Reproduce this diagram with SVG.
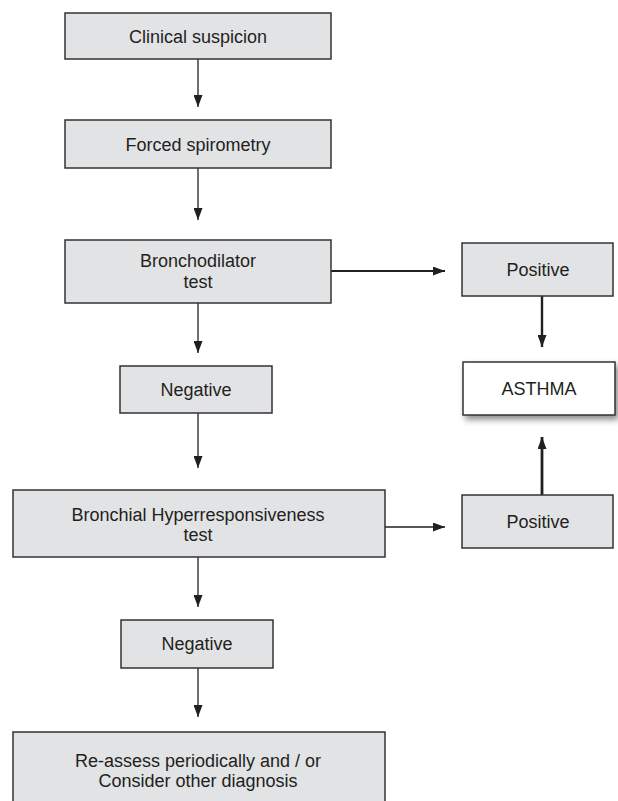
<svg xmlns="http://www.w3.org/2000/svg" width="618" height="801" viewBox="0 0 618 801">
<defs>
<style>
.box{fill:#e2e3e5;stroke:#333;stroke-width:1.5}
.wbox{fill:#fff;stroke:#333;stroke-width:1.5}
.t{font-family:"Liberation Sans",Arial,sans-serif;font-size:18px;fill:#231f20;text-anchor:middle}
.c{stroke:#231f20;stroke-width:1.3;fill:none}
</style>
<marker id="ah" markerUnits="userSpaceOnUse" markerWidth="12" markerHeight="9" refX="12" refY="4.5" orient="auto">
<path d="M0,0 L12,4.5 L0,9 z" fill="#231f20"/>
</marker>
<filter id="sh" x="-10%" y="-20%" width="130%" height="160%">
<feDropShadow dx="3" dy="4" stdDeviation="3" flood-color="#000" flood-opacity="0.45"/>
</filter>
</defs>
<rect width="618" height="801" fill="#fff"/>
<g id="connectors">
<line class="c" x1="198" y1="59" x2="198" y2="107" marker-end="url(#ah)"/>
<line class="c" x1="198" y1="168" x2="198" y2="220" marker-end="url(#ah)"/>
<line class="c" x1="198" y1="303" x2="198" y2="353" marker-end="url(#ah)"/>
<line class="c" x1="198" y1="413" x2="198" y2="468" marker-end="url(#ah)"/>
<line class="c" x1="198" y1="557" x2="198" y2="607" marker-end="url(#ah)"/>
<line class="c" x1="198" y1="668" x2="198" y2="717" marker-end="url(#ah)"/>
<line class="c" x1="331" y1="271" x2="445" y2="271" style="stroke-width:2" marker-end="url(#ah)"/>
<line class="c" x1="385" y1="527" x2="445" y2="527" marker-end="url(#ah)"/>
<line class="c" x1="542" y1="296" x2="542" y2="347" style="stroke-width:2.4" marker-end="url(#ah)"/>
<line class="c" x1="542" y1="495" x2="542" y2="437" style="stroke-width:2.8" marker-end="url(#ah)"/>
</g>
<g id="clinical">
<rect class="box" x="65" y="13" width="266" height="46"/>
<text class="t" x="198" y="42.5">Clinical suspicion</text>
</g>
<g id="spirometry">
<rect class="box" x="65" y="120" width="266" height="48"/>
<text class="t" x="198" y="150.5">Forced spirometry</text>
</g>
<g id="bronchodilator">
<rect class="box" x="65" y="240" width="266" height="63"/>
<text class="t" x="198" y="267">Bronchodilator</text>
<text class="t" x="198" y="288">test</text>
</g>
<g id="positive1">
<rect class="box" x="462" y="243" width="151" height="53"/>
<text class="t" x="538" y="276">Positive</text>
</g>
<g id="asthma">
<rect class="wbox" x="463" y="362" width="152" height="53" filter="url(#sh)"/>
<text class="t" x="539" y="395">ASTHMA</text>
</g>
<g id="negative1">
<rect class="box" x="120" y="366" width="152" height="47"/>
<text class="t" x="196" y="396">Negative</text>
</g>
<g id="hyperresponsiveness">
<rect class="box" x="13" y="490" width="372" height="67"/>
<text class="t" x="198" y="521">Bronchial Hyperresponsiveness</text>
<text class="t" x="198" y="541">test</text>
</g>
<g id="positive2">
<rect class="box" x="462" y="495" width="151" height="53"/>
<text class="t" x="538" y="528">Positive</text>
</g>
<g id="negative2">
<rect class="box" x="121" y="620" width="152" height="48"/>
<text class="t" x="197" y="650">Negative</text>
</g>
<g id="reassess">
<rect class="box" x="13" y="732" width="372" height="80"/>
<text class="t" x="198" y="767">Re-assess periodically and / or</text>
<text class="t" x="198" y="787">Consider other diagnosis</text>
</g>
</svg>
